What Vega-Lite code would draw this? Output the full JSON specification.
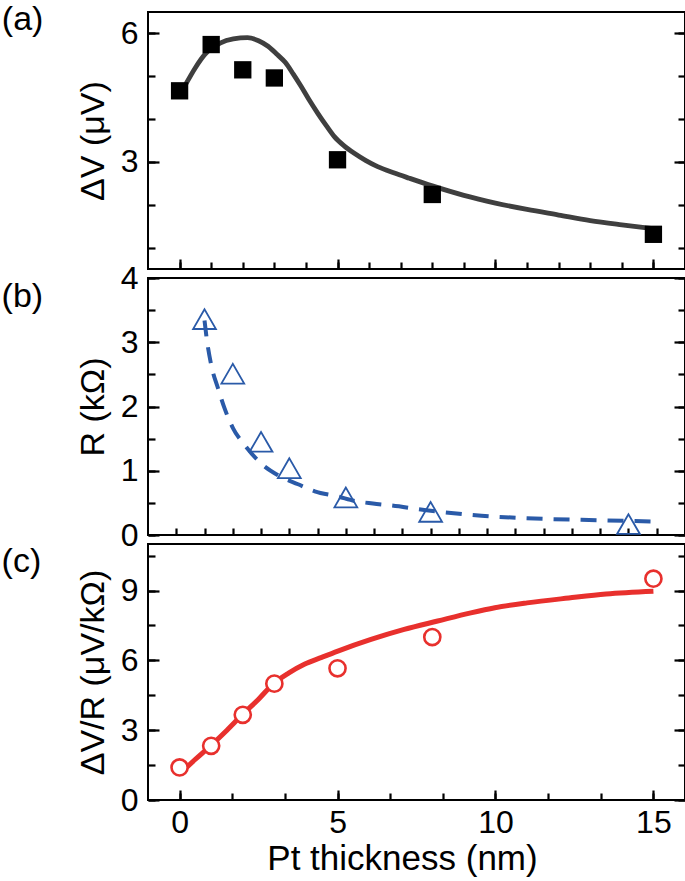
{
  "$schema": "https://vega.github.io/schema/vega-lite/v6.json",
  "padding": {"left": 0, "top": 2, "right": 0, "bottom": 0},
  "bounds": "flush",
  "spacing": 9,
  "background": "white",
  "config": {
    "view": {"stroke": "black", "strokeWidth": 2},
    "font": "Liberation Sans",
    "axis": {
      "domain": false, "grid": false, "tickColor": "black", "tickWidth": 2.2,
      "labelFont": "Liberation Sans", "labelFontSize": 32, "labelColor": "black",
      "titleFont": "Liberation Sans", "titleFontSize": 34, "titleFontWeight": "normal", "titleColor": "black",
      "labelFlush": false, "labelOverlap": false
    }
  },
  "datasets": {
    "pa": [{"t": 0, "v": 4.66}, {"t": 1, "v": 5.74}, {"t": 2, "v": 5.15}, {"t": 3, "v": 4.96}, {"t": 5, "v": 3.05}, {"t": 8, "v": 2.24}, {"t": 15, "v": 1.31}],
    "pa_fit": [
      {"t": 0.2, "v": 4.82}, {"t": 0.5, "v": 5.2}, {"t": 0.8, "v": 5.51}, {"t": 1.3, "v": 5.78}, {"t": 1.7, "v": 5.87},
      {"t": 2.15, "v": 5.9}, {"t": 2.5, "v": 5.83}, {"t": 2.8, "v": 5.7}, {"t": 3.1, "v": 5.5}, {"t": 3.35, "v": 5.32},
      {"t": 3.6, "v": 5.05}, {"t": 3.85, "v": 4.76}, {"t": 4.1, "v": 4.45}, {"t": 4.37, "v": 4.14}, {"t": 4.65, "v": 3.84},
      {"t": 4.9, "v": 3.59}, {"t": 5.2, "v": 3.38}, {"t": 5.53, "v": 3.2}, {"t": 5.9, "v": 3.03}, {"t": 6.27, "v": 2.89},
      {"t": 6.8, "v": 2.74}, {"t": 7.27, "v": 2.62}, {"t": 8.0, "v": 2.44}, {"t": 9.0, "v": 2.22}, {"t": 10.0, "v": 2.04},
      {"t": 11.0, "v": 1.89}, {"t": 12.0, "v": 1.76}, {"t": 13.0, "v": 1.63}, {"t": 14.0, "v": 1.53}, {"t": 15.0, "v": 1.44}
    ],
    "pb": [{"t": 0, "v": 3.36}, {"t": 1, "v": 2.51}, {"t": 2, "v": 1.45}, {"t": 3, "v": 1.04}, {"t": 5, "v": 0.585}, {"t": 8, "v": 0.36}, {"t": 15, "v": 0.17}],
    "pb_fit": [
      {"t": 0, "v": 3.34}, {"t": 0.07, "v": 3.08}, {"t": 0.24, "v": 2.64}, {"t": 0.48, "v": 2.28}, {"t": 0.71, "v": 1.97},
      {"t": 1.01, "v": 1.66}, {"t": 1.42, "v": 1.4}, {"t": 2.01, "v": 1.11}, {"t": 2.6, "v": 0.93}, {"t": 3.31, "v": 0.79},
      {"t": 3.9, "v": 0.68}, {"t": 4.72, "v": 0.6}, {"t": 5.31, "v": 0.53}, {"t": 5.96, "v": 0.49}, {"t": 6.6, "v": 0.46},
      {"t": 7.78, "v": 0.39}, {"t": 9.8, "v": 0.3}, {"t": 12.1, "v": 0.25}, {"t": 14.0, "v": 0.23}, {"t": 15.8, "v": 0.21}
    ],
    "pc": [{"t": 0, "v": 1.4}, {"t": 1, "v": 2.33}, {"t": 2, "v": 3.66}, {"t": 3, "v": 5.0}, {"t": 5, "v": 5.66}, {"t": 8, "v": 7.0}, {"t": 15, "v": 9.51}],
    "pc_fit": [
      {"t": 0.05, "v": 1.18}, {"t": 0.5, "v": 1.75}, {"t": 0.98, "v": 2.33}, {"t": 1.5, "v": 3.0}, {"t": 1.98, "v": 3.66},
      {"t": 2.5, "v": 4.33}, {"t": 2.95, "v": 4.97}, {"t": 3.45, "v": 5.45}, {"t": 3.95, "v": 5.83}, {"t": 4.5, "v": 6.13},
      {"t": 5.01, "v": 6.4}, {"t": 6.06, "v": 6.9}, {"t": 7.11, "v": 7.33}, {"t": 8.17, "v": 7.69}, {"t": 9.22, "v": 8.04},
      {"t": 9.98, "v": 8.26}, {"t": 11.0, "v": 8.47}, {"t": 12.32, "v": 8.68}, {"t": 13.5, "v": 8.85}, {"t": 15.0, "v": 8.97}
    ]
  },
  "vconcat": [
    {
      "width": 537, "height": 257,
      "layer": [
        {
          "data": {"name": "pa_fit"},
          "mark": {"type": "line", "color": "#3f3f3f", "strokeWidth": 4.8, "interpolate": "monotone"},
          "encoding": {
            "x": {"field": "t", "type": "quantitative", "scale": {"domain": [-1, 16], "nice": false, "zero": false},
              "axis": {"orient": "bottom", "values": [0, 5, 10, 15], "labels": false, "title": null, "tickSize": 10, "offset": -10}},
            "y": {"field": "v", "type": "quantitative", "scale": {"domain": [0.5, 6.5], "nice": false, "zero": false},
              "axis": {"orient": "left", "values": [3, 6], "tickSize": 11, "offset": -11, "labelPadding": 10,
                "title": "ΔV (μV)", "titlePadding": 10}}
          }
        },
        {
          "data": {"name": "pa"},
          "mark": {"type": "point", "shape": "square", "filled": true, "color": "black", "size": 300, "opacity": 1},
          "encoding": {
            "x": {"field": "t", "type": "quantitative",
              "axis": {"orient": "bottom", "values": [0,1,2,3,4,5,6,7,8,9,10,11,12,13,14,15], "labels": false, "title": null, "tickSize": 7, "offset": -7}},
            "y": {"field": "v", "type": "quantitative",
              "axis": {"orient": "left", "values": [1,2,3,4,5,6], "labels": false, "title": null, "tickSize": 7, "offset": -7}}
          }
        },
        {
          "data": {"values": [{"label": "(a)"}]},
          "mark": {"type": "text", "align": "left", "baseline": "middle", "fontSize": 34, "font": "Liberation Sans", "color": "black"},
          "encoding": {
            "text": {"field": "label"},
            "x": {"datum": -5.628, "type": "quantitative", "axis": null},
            "y": {"datum": 6.305, "type": "quantitative",
              "axis": {"orient": "right", "values": [3, 6], "labels": false, "title": null, "tickSize": 11, "offset": -11}}
          }
        },
        {
          "data": {"name": "pa_fit"},
          "mark": {"type": "line", "strokeOpacity": 0},
          "encoding": {
            "x": {"field": "t", "type": "quantitative", "axis": null},
            "y": {"field": "v", "type": "quantitative",
              "axis": {"orient": "right", "values": [1,2,3,4,5,6], "labels": false, "title": null, "tickSize": 7, "offset": -7}}
          }
        }
      ],
      "resolve": {"axis": {"x": "independent", "y": "independent"}}
    },
    {
      "width": 537, "height": 257,
      "layer": [
        {
          "data": {"name": "pb_fit"},
          "mark": {"type": "line", "color": "#2a5aa8", "strokeWidth": 4, "strokeDash": [16, 11], "interpolate": "monotone"},
          "encoding": {
            "x": {"field": "t", "type": "quantitative", "scale": {"domain": [-2, 17], "nice": false, "zero": false},
              "axis": {"orient": "bottom", "values": [-1,0,1,2,3,4,5,6,7,8,9,10,11,12,13,14,15,16], "labels": false, "title": null, "tickSize": 7, "offset": -7}},
            "y": {"field": "v", "type": "quantitative", "scale": {"domain": [0, 4], "nice": false, "zero": false},
              "axis": {"orient": "left", "values": [0, 1, 2, 3, 4], "format": "d", "tickSize": 11, "offset": -11, "labelPadding": 10,
                "title": "R (kΩ)", "titlePadding": 10}}
          }
        },
        {
          "data": {"name": "pb"},
          "mark": {"type": "point", "shape": "triangle-up", "filled": false, "color": "#2a5aa8", "strokeWidth": 1.8, "size": 520, "opacity": 1},
          "encoding": {
            "x": {"field": "t", "type": "quantitative", "axis": null},
            "y": {"field": "v", "type": "quantitative",
              "axis": {"orient": "left", "values": [0,0.5,1,1.5,2,2.5,3,3.5,4], "labels": false, "title": null, "tickSize": 7, "offset": -7}}
          }
        },
        {
          "data": {"values": [{"label": "(b)"}]},
          "mark": {"type": "text", "align": "left", "baseline": "middle", "fontSize": 34, "font": "Liberation Sans", "color": "black"},
          "encoding": {
            "text": {"field": "label"},
            "x": {"datum": -7.18, "type": "quantitative", "axis": null},
            "y": {"datum": 3.7, "type": "quantitative",
              "axis": {"orient": "right", "values": [0, 1, 2, 3, 4], "labels": false, "title": null, "tickSize": 11, "offset": -11}}
          }
        },
        {
          "data": {"name": "pb_fit"},
          "mark": {"type": "line", "strokeOpacity": 0},
          "encoding": {
            "x": {"field": "t", "type": "quantitative", "axis": null},
            "y": {"field": "v", "type": "quantitative",
              "axis": {"orient": "right", "values": [0,0.5,1,1.5,2,2.5,3,3.5,4], "labels": false, "title": null, "tickSize": 7, "offset": -7}}
          }
        }
      ],
      "resolve": {"axis": {"x": "independent", "y": "independent"}}
    },
    {
      "width": 537, "height": 256,
      "layer": [
        {
          "data": {"name": "pc_fit"},
          "mark": {"type": "line", "color": "#e8302d", "strokeWidth": 5, "interpolate": "monotone"},
          "encoding": {
            "x": {"field": "t", "type": "quantitative", "scale": {"domain": [-1, 16], "nice": false, "zero": false},
              "axis": {"orient": "bottom", "values": [0, 5, 10, 15], "title": "Pt thickness (nm)", "titleX": 254, "titleFontSize": 35,
                "tickSize": 10, "offset": -10, "labelPadding": 7, "titlePadding": 3}},
            "y": {"field": "v", "type": "quantitative", "scale": {"domain": [0, 11], "nice": false, "zero": false},
              "axis": {"orient": "left", "values": [0, 3, 6, 9], "tickSize": 11, "offset": -11, "labelPadding": 10,
                "title": "ΔV/R (μV/kΩ)", "titlePadding": 10}}
          }
        },
        {
          "data": {"name": "pc"},
          "mark": {"type": "point", "shape": "circle", "filled": true, "fill": "white", "stroke": "#e8302d", "strokeWidth": 2.6, "size": 260, "opacity": 1},
          "encoding": {
            "x": {"field": "t", "type": "quantitative",
              "axis": {"orient": "bottom", "values": [0, 1.6666667, 3.3333333, 5, 6.6666667, 8.3333333, 10, 11.6666667, 13.3333333, 15], "labels": false, "title": null, "tickSize": 7, "offset": -7}},
            "y": {"field": "v", "type": "quantitative",
              "axis": {"orient": "left", "values": [0,1.5,3,4.5,6,7.5,9,10.5], "labels": false, "title": null, "tickSize": 7, "offset": -7}}
          }
        },
        {
          "data": {"values": [{"label": "(c)"}]},
          "mark": {"type": "text", "align": "left", "baseline": "middle", "fontSize": 34, "font": "Liberation Sans", "color": "black"},
          "encoding": {
            "text": {"field": "label"},
            "x": {"datum": -5.634, "type": "quantitative", "axis": null},
            "y": {"datum": 10.24, "type": "quantitative",
              "axis": {"orient": "right", "values": [0, 3, 6, 9], "labels": false, "title": null, "tickSize": 11, "offset": -11}}
          }
        },
        {
          "data": {"name": "pc_fit"},
          "mark": {"type": "line", "strokeOpacity": 0},
          "encoding": {
            "x": {"field": "t", "type": "quantitative", "axis": null},
            "y": {"field": "v", "type": "quantitative",
              "axis": {"orient": "right", "values": [0,1.5,3,4.5,6,7.5,9,10.5], "labels": false, "title": null, "tickSize": 7, "offset": -7}}
          }
        }
      ],
      "resolve": {"axis": {"x": "independent", "y": "independent"}}
    }
  ]
}
